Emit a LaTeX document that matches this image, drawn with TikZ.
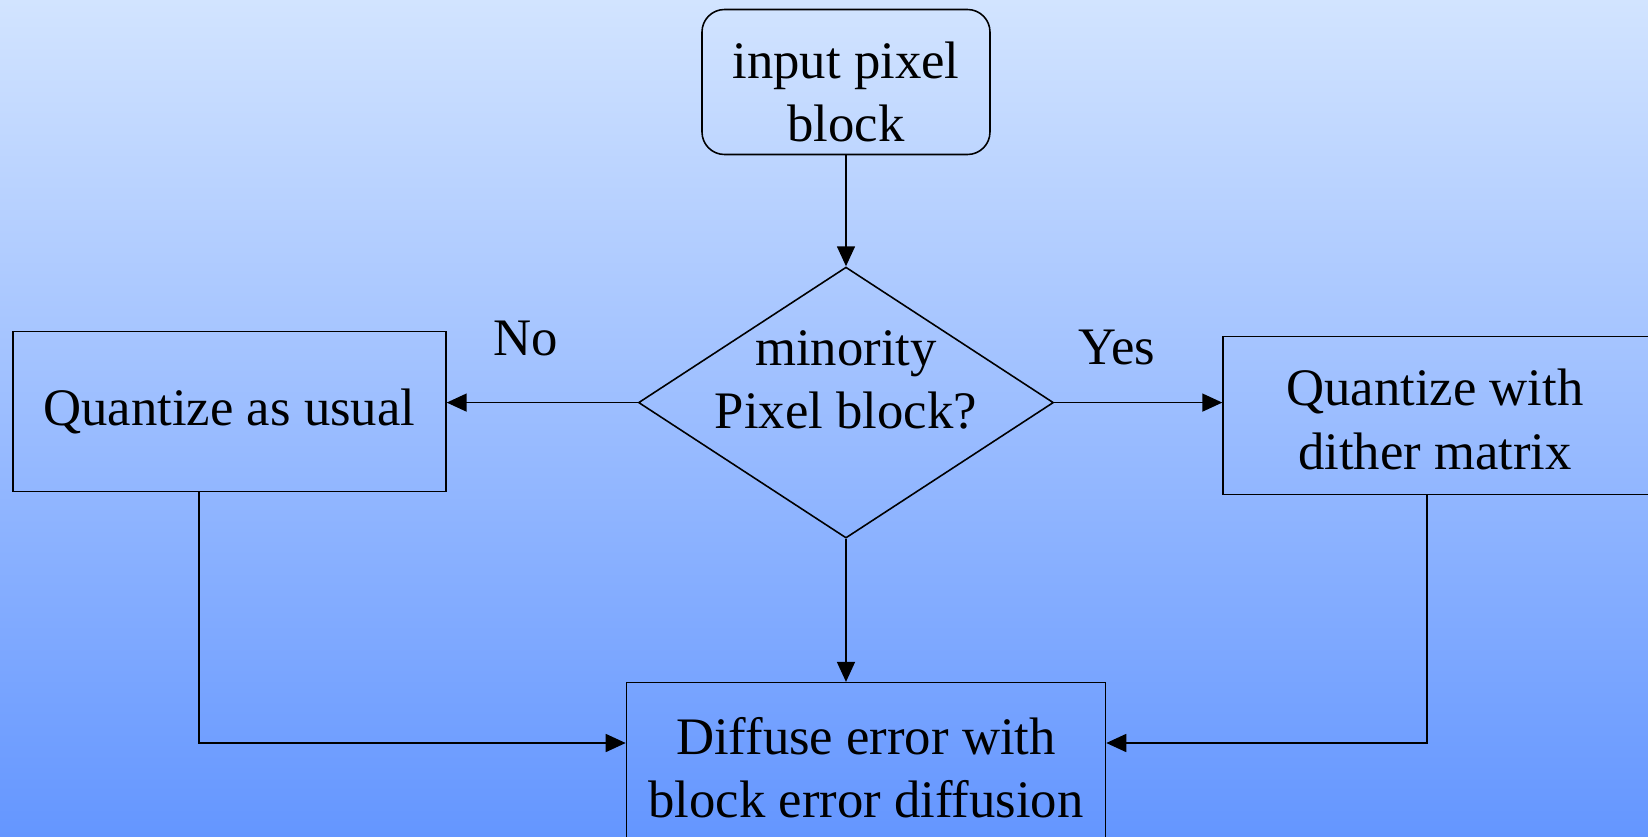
\documentclass[tikz,border=0pt]{standalone}
\usepackage{fontspec}
\setmainfont{Liberation Serif}
\usepackage{tikz}
\usetikzlibrary{arrows.meta, positioning, shapes.geometric}
\definecolor{bgtop}{HTML}{D2E4FF}
\definecolor{bgbottom}{HTML}{6496FF}

\begin{document}
\begin{tikzpicture}[
    >={Triangle[length=0.4cm, width=0.36cm]},
    % --- block styles ---
    startbox/.style={
      draw, rectangle, rounded corners=0.45cm,
      minimum width=5.76cm, minimum height=2.9cm,
      align=center, line width=0.9pt},
    block/.style={
      draw, rectangle,
      align=center, line width=0.9pt},
    decision/.style={
      draw, diamond, inner sep=0pt,
      minimum width=8.3cm, minimum height=5.42cm,
      line width=0.9pt},
    anno/.style={inner sep=0pt},
    arr/.style={->, line width=0.9pt},
    every node/.append style={font=\fontsize{30}{36}\selectfont},
  ]

  % ── Background ──
  \clip (-16.92,1.64) rectangle (16.04,-15.1);
  \shade[top color=bgtop, bottom color=bgbottom]
    (-16.92,1.64) rectangle (16.04,-15.1);

  % ── Flow blocks ──
  \node[startbox] (start) at (0,0) {\rule{0pt}{1.12cm}input pixel\\block};
  \node[decision, below=2.22cm of start] (dec) {};
  \node[anno, align=center, yshift=0.46cm] (dectext) at (dec.center)
    {minority\\Pixel block?};
  \node[block, left=3.82cm of dec, yshift=-0.18cm,
        minimum width=8.66cm, minimum height=3.2cm]
    (usual) {Quantize as usual};
  \node[block, right=3.36cm of dec, yshift=-0.26cm,
        minimum width=8.8cm, minimum height=3.16cm]
    (dither) {\hspace*{-0.32cm}\rule{0pt}{0.89cm}Quantize with\\
              \hspace*{-0.32cm}dither matrix};
  \node[block, below=2.86cm of dec, xshift=0.4cm,
        minimum width=9.58cm, minimum height=3.6cm]
    (diffuse) {Diffuse error with\\
               block error diffusion\rule[-0.2cm]{0pt}{0.2cm}};

  % ── Branch labels ──
  \node[anno] (no)  at (-6.4,-5.12) {No};
  \node[anno] (yes) at (5.42,-5.3) {Yes};

  % ── Connectors ──
  \draw[arr] (start) -- (dec);
  \draw[arr] (dec.west) -- (dec.west -| usual.east);
  \draw[arr] (dec.east) -- (dec.east -| dither.west);
  \draw[arr] (dec.south) -- (dec.south |- diffuse.north);

  \coordinate (lbend) at (-12.94,-13.22);
  \coordinate (rbend) at (11.62,-13.22);
  \draw[arr] (usual.south -| lbend) -- (lbend) -- (lbend -| diffuse.west);
  \draw[arr] (dither.south -| rbend) -- (rbend) -- (rbend -| diffuse.east);

\end{tikzpicture}
\end{document}
